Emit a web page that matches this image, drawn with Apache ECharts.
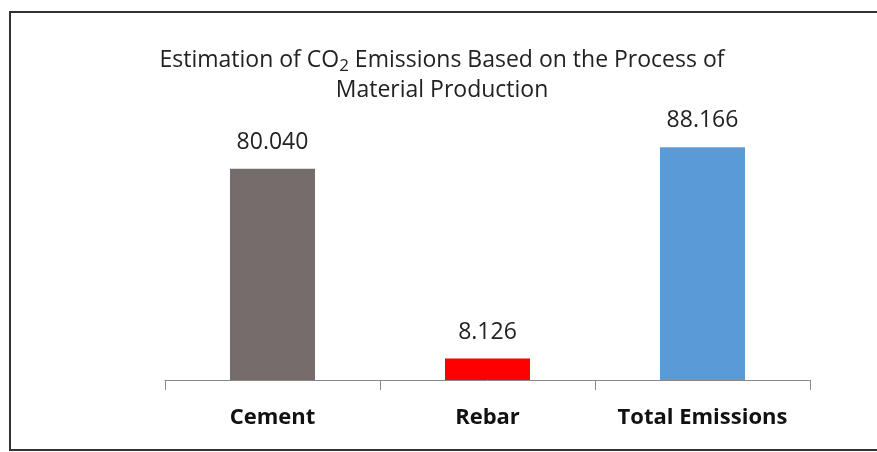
<!DOCTYPE html>
<html>
<head>
<meta charset="utf-8">
<script src="https://cdn.jsdelivr.net/npm/echarts@6/dist/echarts.min.js"></script>
<style>
  html, body { margin: 0; padding: 0; background: #fff; }
  #bar { width: 877px; height: 452px; }
</style>
</head>
<body>
<div id="bar"></div>
<script>
// data
var categories = ["Cement", "Rebar", "Total Emissions"];
var emissions = [80.040, 8.126, 88.166];
var barColors = ["#756d6b", "#ff0000", "#5b9bd5"];

var myChart = echarts.init(document.getElementById("bar"));

var seriesData = [];
for (var i = 0; i < emissions.length; i++) {
  seriesData.push({ value: emissions[i], itemStyle: { color: barColors[i] } });
}

myChart.setOption({
  animation: false,
  textStyle: { fontFamily: "Open Sans" },
  title: {
    left: 437,
    textAlign: "center",
    top: 40,
    text: "{a|Estimation of CO}{sub|2}{a| Emissions Based on the Process of}\n{a|Material Production}",
    textStyle: {
      fontWeight: "normal",
      rich: {
        a: { fontSize: 23, lineHeight: 30, fontWeight: "normal", color: "#222", fontFamily: "Open Sans" },
        sub: { fontSize: 17, lineHeight: 20, fontWeight: "normal", verticalAlign: "bottom", color: "#222", fontFamily: "Open Sans" }
      }
    }
  },
  graphic: [
    {
      type: "rect",
      shape: { x: 10, y: 12, width: 900, height: 438 },
      style: { fill: "none", stroke: "#333", lineWidth: 2 }
    }
  ],
  grid: { left: 165, right: 67, top: 116, bottom: 72 },
  xAxis: {
    type: "category",
    data: categories,
    axisLine: { lineStyle: { color: "#888", width: 1 } },
    axisTick: { show: true, interval: 0, length: 10, lineStyle: { color: "#888" } },
    axisLabel: {
      interval: 0,
      margin: 27,
      fontSize: 22,
      fontWeight: "bold",
      color: "#111",
      fontFamily: "Open Sans"
    }
  },
  yAxis: {
    type: "value",
    min: 0,
    max: 100,
    show: false
  },
  series: [
    {
      type: "bar",
      barWidth: 85,
      data: seriesData,
      label: {
        show: true,
        position: "top",
        distance: 15,
        fontSize: 23,
        color: "#222",
        fontFamily: "Open Sans",
        formatter: function (p) { return p.value.toFixed(3); }
      }
    }
  ]
});
</script>
</body>
</html>
